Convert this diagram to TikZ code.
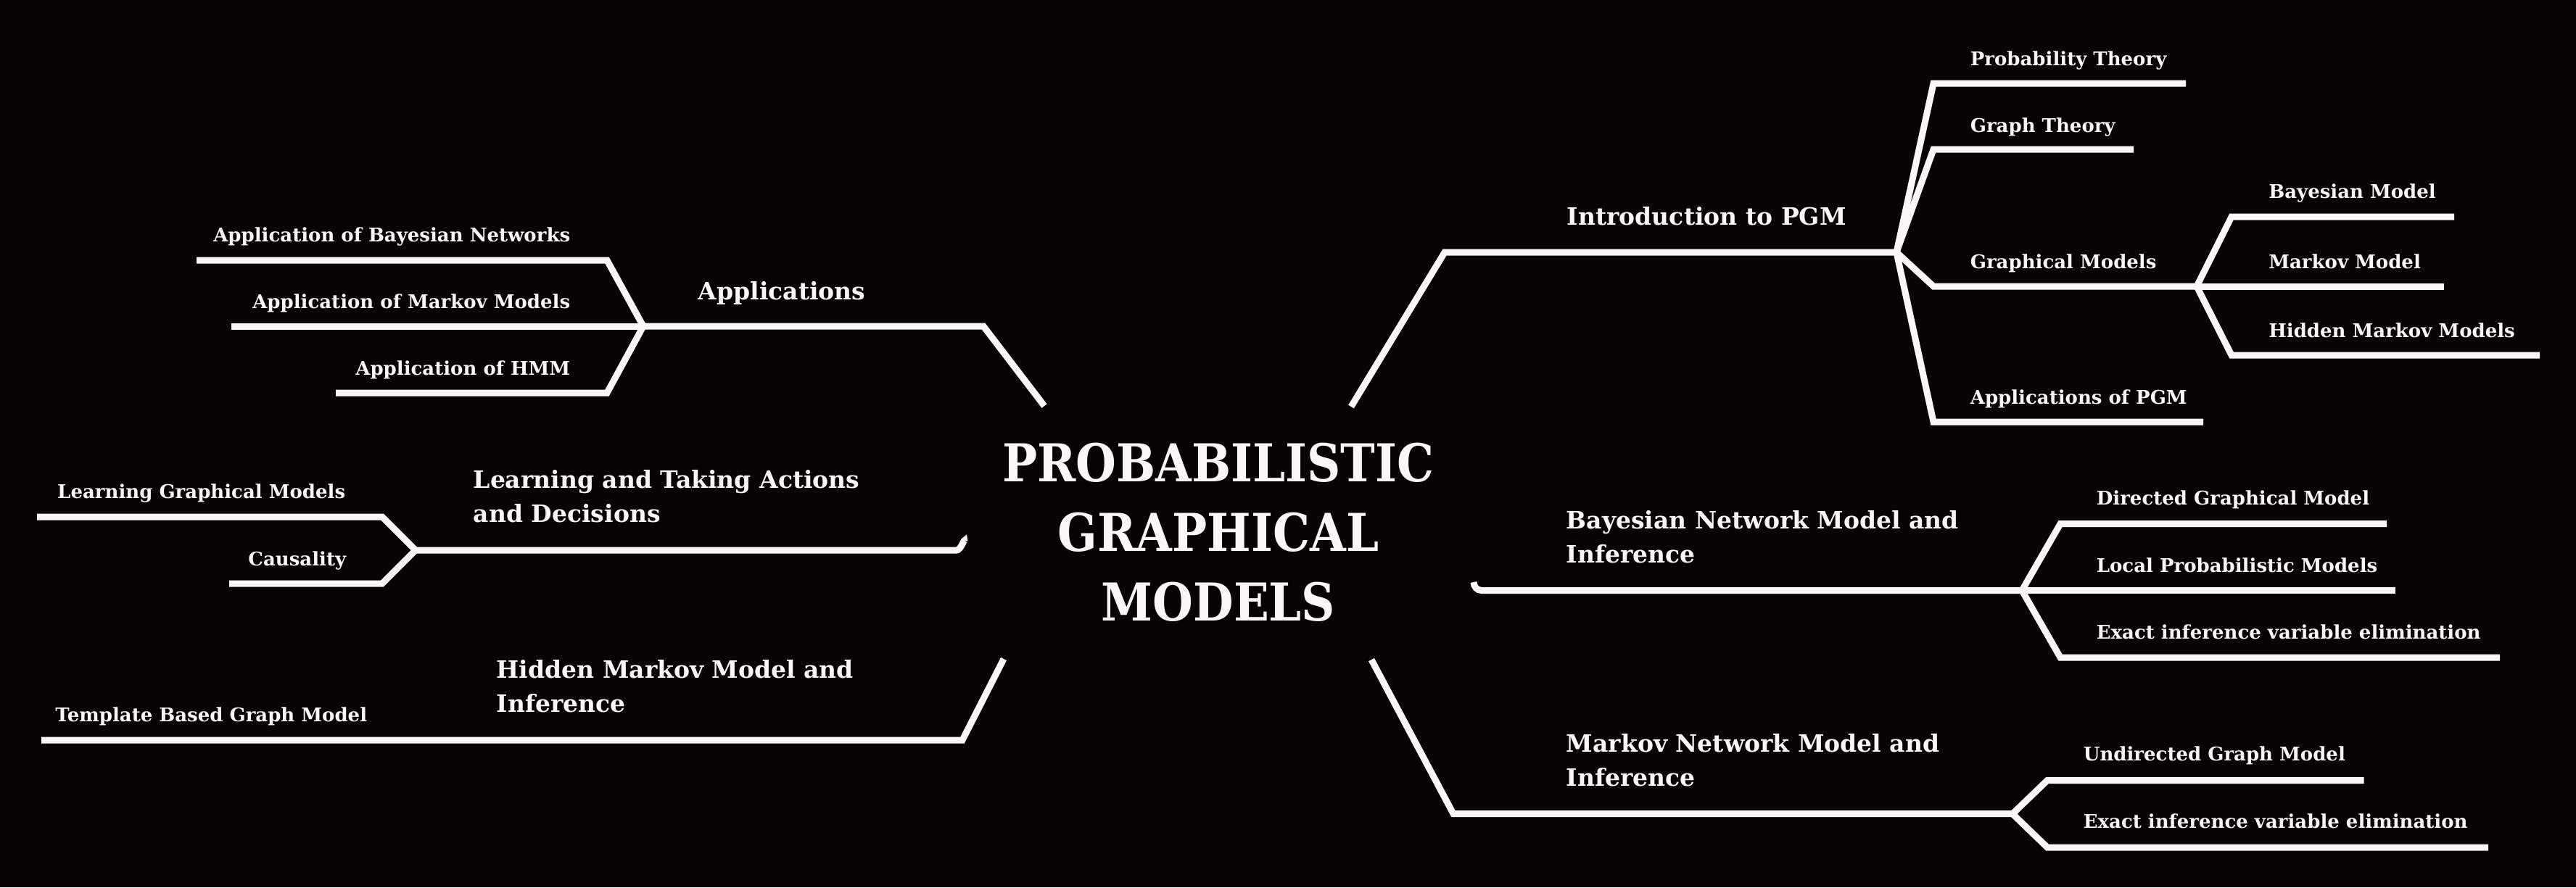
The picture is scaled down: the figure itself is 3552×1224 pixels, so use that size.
\documentclass[tikz,border=0pt]{standalone}
\usepackage{fontspec}
\setmainfont{DejaVu Serif}
\newfontfamily\titlefont{DejaVu Serif}[FakeStretch=0.89]
\definecolor{bgc}{RGB}{10,3,6}
\definecolor{fgc}{RGB}{252,245,247}
\begin{document}
\begin{tikzpicture}[x=0.25pt,y=-0.25pt,
  conn/.style={draw=fgc,line width=2.25pt,line join=miter},
  lvltwo/.style={text=fgc,inner sep=0pt,font=\bfseries\fontsize{6.5pt}{8pt}\selectfont},
  lvlone/.style={text=fgc,inner sep=0pt,align=left,font=\bfseries\fontsize{8.25pt}{11.75pt}\selectfont},
  ttlstyle/.style={text=fgc,inner sep=0pt,align=center,font=\titlefont\bfseries\fontsize{18pt}{24pt}\selectfont}]
\fill[bgc] (0,0) rectangle (3552,1224);
\useasboundingbox (0,0) rectangle (3552,1224);

% title
\node[ttlstyle] (title) at (1680,734) {PROBABILISTIC\\GRAPHICAL\\MODELS};

% coordinates near the title
\coordinate (cA) at (1440,560);
\coordinate (cL) at (1330,747);
\coordinate (cH) at (1384,909);
\coordinate (cI) at (1863,561);
\coordinate (cB) at (2032,803);
\coordinate (cM) at (1891,910);

% forks
\coordinate (fA) at (887,450);
\coordinate (fL) at (573,759);
\coordinate (fI) at (2615,348);
\coordinate (fG) at (3029,395);
\coordinate (fB) at (2788,814.5);
\coordinate (fM) at (2775,1122.7);

% leaf ends
\coordinate (eA1) at (271,359);
\coordinate (eA2) at (319,450);
\coordinate (eA3) at (463,542);
\coordinate (eL1) at (51,713);
\coordinate (eL2) at (316,805);
\coordinate (eH1) at (57,1021);
\coordinate (eI1) at (3014,115);
\coordinate (eI2) at (2942,206);
\coordinate (eI3) at (3038,582);
\coordinate (eG1) at (3384,299);
\coordinate (eG2) at (3370,395);
\coordinate (eG3) at (3502,490);
\coordinate (eB1) at (3291,722.5);
\coordinate (eB2) at (3303,814.5);
\coordinate (eB3) at (3447,907);
\coordinate (eM1) at (3259.5,1076.5);
\coordinate (eM2) at (3431,1169);

% connectors: Applications
\draw[conn] (cA) -- (1356,450) -- (fA);
\draw[conn] (fA) -- (837,359) -- (eA1);
\draw[conn] (fA) -- (eA2);
\draw[conn] (fA) -- (837,542) -- (eA3);
% Learning
\draw[conn] (cL) to[out=90,in=0] (1319,759) -- (fL);
\draw[conn] (fL) -- (527,713) -- (eL1);
\draw[conn] (fL) -- (527,805) -- (eL2);
% HMM
\draw[conn] (cH) -- (1327,1021) -- (eH1);
% Intro
\draw[conn] (cI) -- (1992,348) -- (fI);
\draw[conn] (fI) -- (2666,115) -- (eI1);
\draw[conn] (fI) -- (2666,206) -- (eI2);
\draw[conn] (fI) -- (2666,395) -- (fG);
\draw[conn] (fI) -- (2666,582) -- (eI3);
\draw[conn] (fG) -- (3077,299) -- (eG1);
\draw[conn] (fG) -- (eG2);
\draw[conn] (fG) -- (3077,490) -- (eG3);
% Bayesian
\draw[conn] (cB) to[out=-90,in=180] (2043,814.5) -- (fB);
\draw[conn] (fB) -- (2841,722.5) -- (eB1);
\draw[conn] (fB) -- (eB2);
\draw[conn] (fB) -- (2841,907) -- (eB3);
% Markov
\draw[conn] (cM) -- (2004,1122.7) -- (fM);
\draw[conn] (fM) -- (2823,1076.5) -- (eM1);
\draw[conn] (fM) -- (2823,1169) -- (eM2);

% level one labels (base = baseline of the last line)
\node[lvlone,anchor=base west] (tA) at (962,413) {Applications};
\node[lvlone,anchor=base west] (tL) at (652,720) {Learning and Taking Actions\\and Decisions};
\node[lvlone,anchor=base west] (tH) at (684,982) {Hidden Markov Model and\\Inference};
\node[lvlone,anchor=base west] (tI) at (2160,310) {Introduction to PGM};
\node[lvlone,anchor=base west] (tB) at (2159,776) {Bayesian Network Model and\\Inference};
\node[lvlone,anchor=base west] (tM) at (2159,1084) {Markov Network Model and\\Inference};

% level two labels, left
\node[lvltwo,anchor=base east] (a1) at (787,333) {Application of Bayesian Networks};
\node[lvltwo,anchor=base east] (a2) at (787,425) {Application of Markov Models};
\node[lvltwo,anchor=base east] (a3) at (787,517) {Application of HMM};
\node[lvltwo,anchor=base east] (l1) at (477,687) {Learning Graphical Models};
\node[lvltwo,anchor=base east] (l2) at (478,780) {Causality};
\node[lvltwo,anchor=base east] (h1) at (507,995) {Template Based Graph Model};
% level two labels, right
\node[lvltwo,anchor=base west] (i1) at (2716,90) {Probability Theory};
\node[lvltwo,anchor=base west] (i2) at (2716,182) {Graph Theory};
\node[lvltwo,anchor=base west] (i3) at (2716,370) {Graphical Models};
\node[lvltwo,anchor=base west] (i4) at (2716,557.5) {Applications of PGM};
\node[lvltwo,anchor=base west] (g1) at (3127.5,273) {Bayesian Model};
\node[lvltwo,anchor=base west] (g2) at (3127.5,370) {Markov Model};
\node[lvltwo,anchor=base west] (g3) at (3127.5,465) {Hidden Markov Models};
\node[lvltwo,anchor=base west] (b1) at (2890,696) {Directed Graphical Model};
\node[lvltwo,anchor=base west] (b2) at (2890,789) {Local Probabilistic Models};
\node[lvltwo,anchor=base west] (b3) at (2890,881) {Exact inference variable elimination};
\node[lvltwo,anchor=base west] (m1) at (2872,1049.5) {Undirected Graph Model};
\node[lvltwo,anchor=base west] (m2) at (2872,1142) {Exact inference variable elimination};
\end{tikzpicture}
\end{document}
